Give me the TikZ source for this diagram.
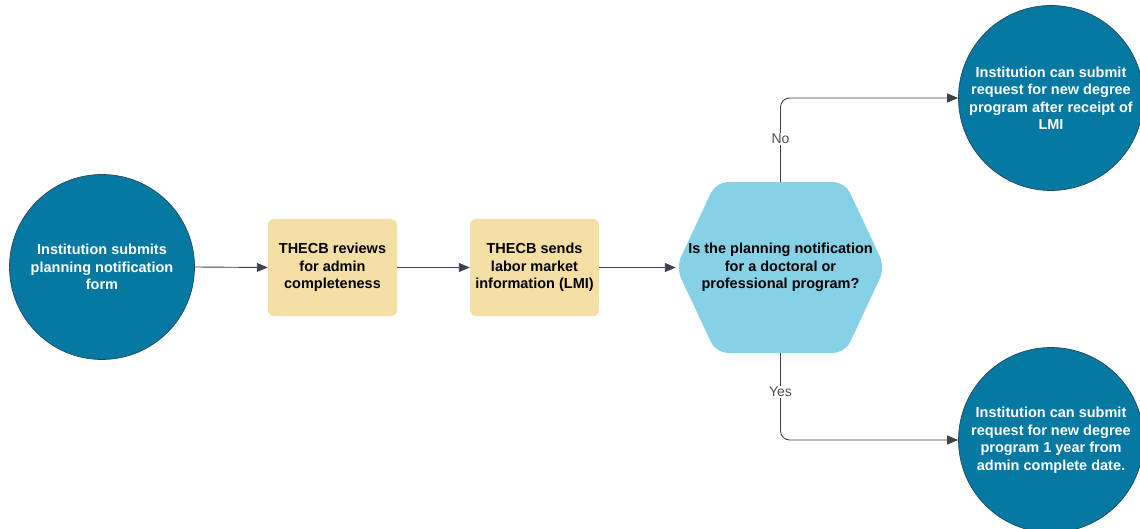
\documentclass[tikz,border=0pt]{standalone}
\usepackage{fontspec}
\setmainfont{Liberation Sans}
\usetikzlibrary{arrows.meta}
\definecolor{circblue}{HTML}{0679A3}
\definecolor{circedge}{HTML}{23485A}
\definecolor{boxtan}{HTML}{F5DFA5}
\definecolor{hexblue}{HTML}{87D1E6}
\definecolor{linegray}{HTML}{3C424B}
\definecolor{labelgray}{HTML}{4A4F55}
\tikzset{
  endcirc/.style={circle, fill=circblue, draw=circedge, line width=0.7pt, minimum size=185pt, inner sep=0pt,
    text=white, font=\bfseries\fontsize{14.5}{17.5}\selectfont, align=center},
  stepbox/.style={rectangle, rounded corners=6pt, fill=boxtan, draw=none, minimum width=129pt, minimum height=97pt,
    inner sep=0pt, font=\bfseries\fontsize{14.5}{17.5}\selectfont, align=center},
  conn/.style={draw=linegray, line width=0.9pt, -{Triangle[length=11pt,width=9pt]}, rounded corners=9pt},
  lab/.style={fill=white, text=labelgray, font=\fontsize{14}{16}\selectfont, inner sep=1.5pt}
}
\begin{document}
\begin{tikzpicture}[x=1pt,y=-1pt]
\useasboundingbox (0,0) rectangle (1140,529);
\node[endcirc] (start) at (102,267) {Institution submits\\planning notification\\form};
\node[stepbox] (rev) at (332.5,267.5) {THECB reviews\\for admin\\completeness};
\node[stepbox] (lmi) at (534.5,267.5) {THECB sends\\labor market\\information (LMI)};
\fill[hexblue, rounded corners=12pt] (676,267.5) -- (716,182) -- (845,182) -- (885,267.5) -- (845,353) -- (716,353) -- cycle;
\node[rectangle, minimum width=209pt, minimum height=171pt, inner sep=0pt, font=\bfseries\fontsize{14.5}{17.5}\selectfont, align=center] (q) at (780.5,267.5) {Is the planning notification\\for a doctoral or\\professional program?};
\node[endcirc] (no) at (1051,98) {Institution can submit\\request for new degree\\program after receipt of\\LMI};
\node[endcirc] (yes) at (1051,440) {Institution can submit\\request for new degree\\program 1 year from\\admin complete date.};
\draw[conn] (start.east) -- (rev.west);
\draw[conn] (rev.east) -- (lmi.west);
\draw[conn] (lmi.east) -- (q.west);
\draw[conn] (q.north) -- (q.north |- no.west) -- (no.west);
\draw[conn] (q.south) -- (q.south |- yes.west) -- (yes.west);
\node[lab] (nolab) at (780.5,139) {No};
\node[lab] (yeslab) at (780.5,392) {Yes};
\end{tikzpicture}
\end{document}
